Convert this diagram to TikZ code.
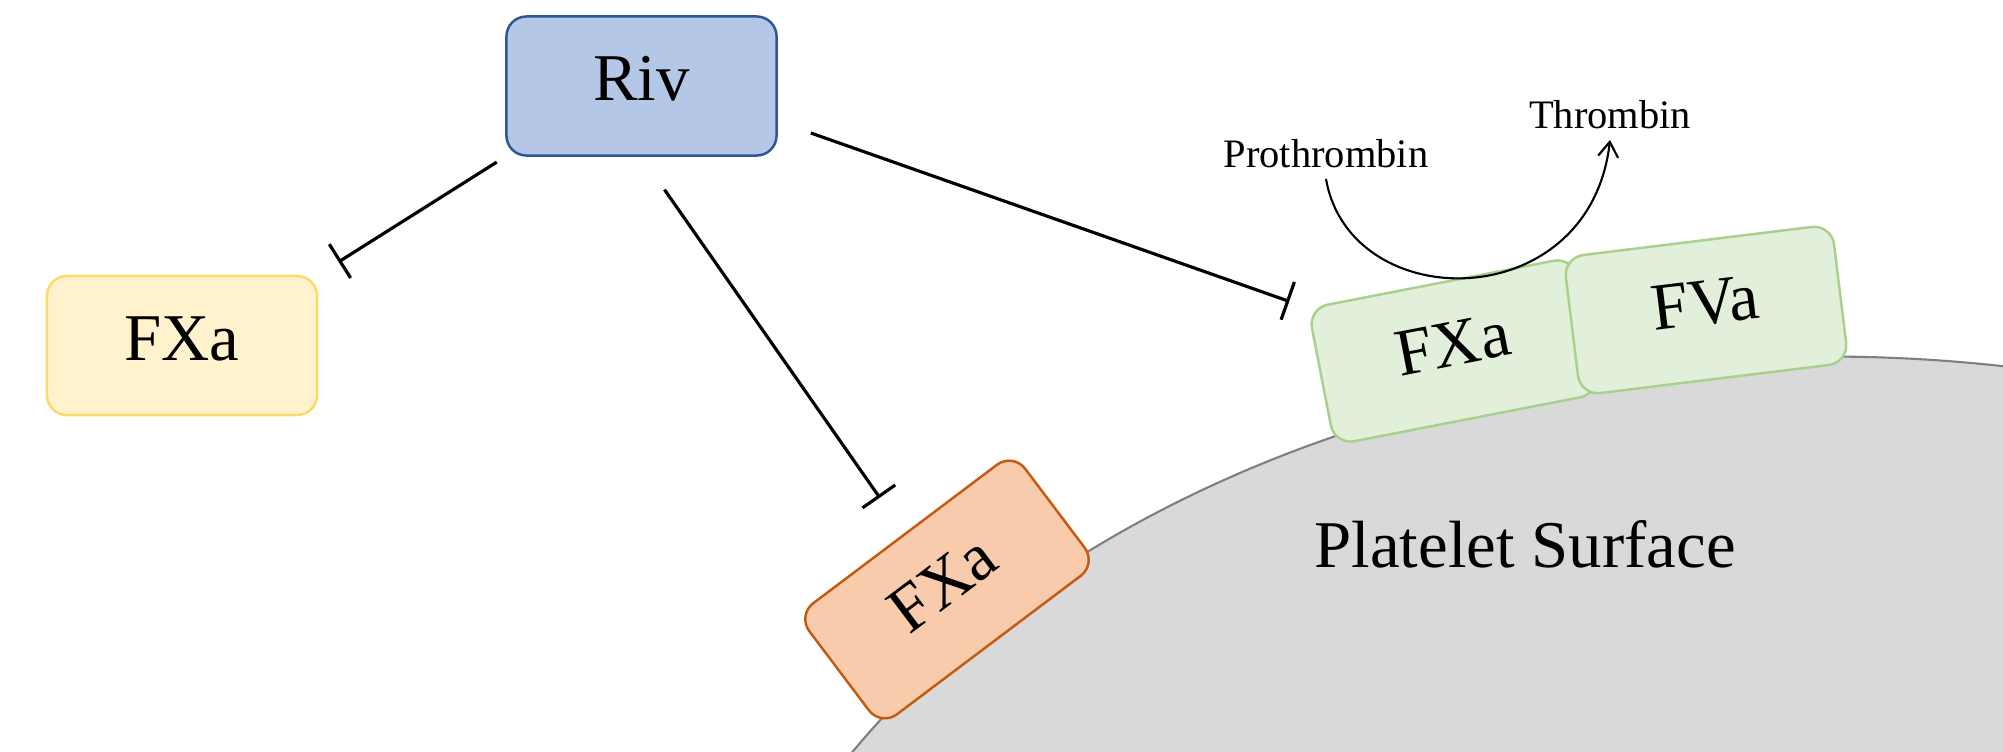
\documentclass[tikz,border=0pt]{standalone}
\usepackage{fontspec}
\setmainfont{Liberation Serif}
\usetikzlibrary{arrows.meta, calc, positioning}
\definecolor{bluefill}{HTML}{B4C7E7}
\definecolor{blueline}{HTML}{2F5597}
\definecolor{yellowfill}{HTML}{FFF2CC}
\definecolor{yellowline}{HTML}{FFD966}
\definecolor{orangefill}{HTML}{F8CBAD}
\definecolor{orangeline}{HTML}{C55A11}
\definecolor{greenfill}{HTML}{E2EFDA}
\definecolor{greenline}{HTML}{A9D18E}
\definecolor{plateletgray}{HTML}{D9D9D9}
\definecolor{plateletline}{HTML}{7F7F7F}
\newcommand{\bigfont}{\fontsize{19}{23}\selectfont}
\newcommand{\smallfont}{\fontsize{11.5}{14}\selectfont}
\tikzset{factor/.style={draw, rounded corners=0.2cm, minimum width=2.7cm, minimum height=1.39cm, line width=0.7pt, inner sep=0pt, text height=0.45cm, text depth=0.16cm, font=\bigfont},
	inhib/.style={line width=0.9pt, -{Bar[width=0.4cm]}}}

\begin{document}
\begin{tikzpicture}[x=0.01cm, y=-0.01cm]
	\useasboundingbox (0,0) rectangle (2003,752);
	\clip (0,0) rectangle (2003,752);

	%platelet
	\draw [plateletline, fill=plateletgray, line width=0.6pt] (1827,1157) ellipse [x radius=11.29cm, y radius=8cm];
	\node (surface) [font=\bigfont] at (1525,544) {Platelet Surface};

	\node (riv) [factor, fill=bluefill, draw=blueline] at (641.5,86) {Riv};
	\node (fxafree) [factor, fill=yellowfill, draw=yellowline] at (182,345.5) {FXa};
	\node (fxabound) [factor, fill=orangefill, draw=orangeline, rotate=37] at (947,589.5) {FXa};
	\node (fxapro) [factor, fill=greenfill, draw=greenline, rotate=11] at (1454,351) {FXa};
	\node (fva) [factor, fill=greenfill, draw=greenline, rotate=7] at (1706,310) {FVa};

	%inhibition
	\draw [inhib, shorten <=0.1cm, shorten >=0.24cm] (riv.south west) -- (fxafree.north east);
	\draw [inhib, shorten <=0.4cm, shorten >=0.43cm] (riv.south) -- (fxabound.north);
	\draw [inhib, shorten <=0.35cm, shorten >=0.185cm] ($(riv.east)!.5!(riv.south east)$) -- (fxapro.north west);

	%prothrombin to thrombin
	\node (pro) [font=\smallfont, inner sep=0.1cm] at (1326,154) {Prothrombin};
	\node (thr) [font=\smallfont, inner sep=0.1cm] at (1610,115) {Thrombin};
	\draw [line width=0.6pt, -{Straight Barb[length=0.15cm, width=0.2cm]}] (pro.south) .. controls (1350,317) and (1590,317) .. (thr.south);
\end{tikzpicture}
\end{document}
